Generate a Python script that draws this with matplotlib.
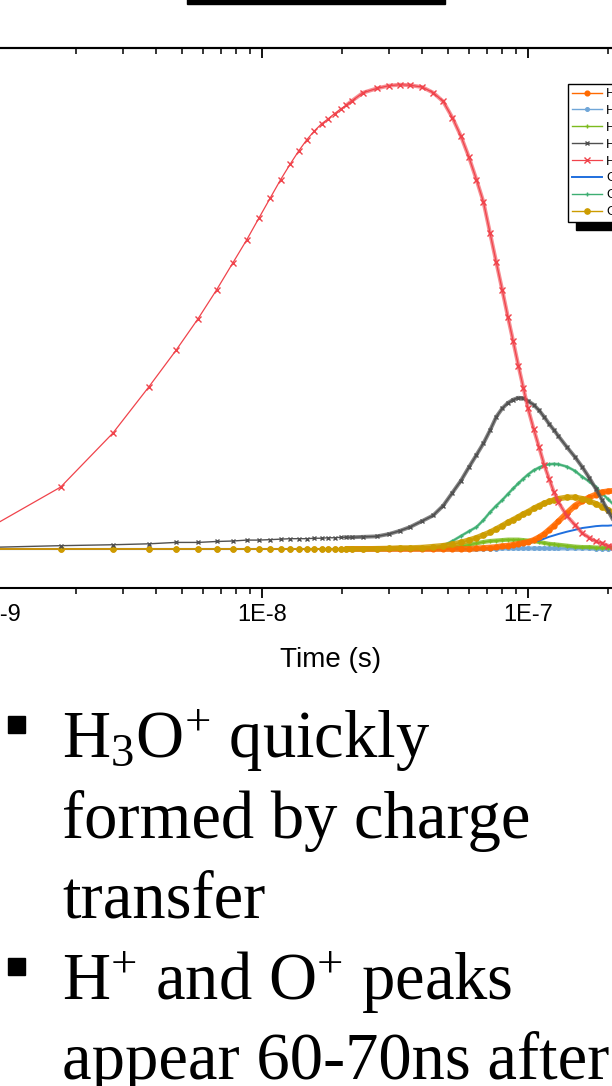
import numpy as np
import matplotlib.pyplot as plt
from matplotlib.ticker import LogLocator, FuncFormatter, NullFormatter
from matplotlib.patches import Rectangle
from matplotlib.transforms import IdentityTransform

plt.rcParams["font.family"] = ["Liberation Sans", "DejaVu Sans"]
plt.rcParams["mathtext.fontset"] = "custom"
plt.rcParams["mathtext.rm"] = "Liberation Serif"
plt.rcParams["mathtext.it"] = "Liberation Serif:italic"

# time grid (ns) and normalised ion populations
t_ns = [0.75, 1.75, 2.75, 3.75, 4.75, 5.75, 6.75, 7.75, 8.75, 9.75, 10.75,
        11.75, 12.75, 13.75, 14.75, 15.75, 16.75, 17.75, 18.75, 19.75, 20.75,
        21.75, 24, 27, 30, 33, 36, 40, 44, 48, 52, 56, 60, 64, 68, 72, 76,
        80, 84, 88, 92, 96, 100, 105, 110, 115, 120, 125, 130, 140, 150,
        160, 170, 180, 190, 200, 210, 220]

h_plus = [0.001] * 33 + [0.002, 0.003, 0.004, 0.005, 0.007, 0.008, 0.010,
          0.012, 0.014, 0.016, 0.020, 0.026, 0.033, 0.042, 0.051, 0.060,
          0.078, 0.094, 0.104, 0.112, 0.118, 0.123, 0.125, 0.126, 0.125]
h2_plus = [0.0] * 34 + [0.001, 0.001, 0.001, 0.002, 0.002, 0.002, 0.002,
           0.002, 0.002, 0.002, 0.002, 0.002, 0.002, 0.002, 0.002,
           0.002, 0.002, 0.002, 0.002, 0.001, 0.001, 0.001, 0.001, 0.001]
h3_plus = [0.001] * 29 + [0.002, 0.004, 0.007, 0.010, 0.013, 0.016, 0.018,
           0.019, 0.020, 0.021, 0.021, 0.021, 0.020, 0.019, 0.018, 0.016,
           0.014, 0.012, 0.011, 0.010, 0.008, 0.006, 0.005, 0.005, 0.004,
           0.004, 0.004, 0.004, 0.004]
h2o_plus = [0.003, 0.008, 0.010, 0.012, 0.015, 0.015, 0.017, 0.018, 0.020,
            0.020, 0.021, 0.022, 0.023, 0.023, 0.023, 0.024, 0.024, 0.025,
            0.025, 0.026, 0.026, 0.026, 0.027, 0.028, 0.033, 0.040, 0.048,
            0.061, 0.073, 0.094, 0.122, 0.148, 0.177, 0.203, 0.228, 0.256,
            0.285, 0.303, 0.315, 0.322, 0.326, 0.325, 0.319, 0.311, 0.299,
            0.285, 0.270, 0.257, 0.244, 0.220, 0.199, 0.177, 0.154, 0.130,
            0.106, 0.083, 0.061, 0.042]
h3o_plus = [0.014, 0.134, 0.250, 0.349, 0.428, 0.496, 0.558, 0.615, 0.665,
            0.713, 0.756, 0.795, 0.828, 0.857, 0.881, 0.900, 0.915, 0.926,
            0.937, 0.947, 0.955, 0.964, 0.982, 0.991, 0.997, 0.999, 0.998,
            0.994, 0.982, 0.963, 0.928, 0.888, 0.843, 0.795, 0.747, 0.680,
            0.617, 0.558, 0.500, 0.447, 0.395, 0.348, 0.303, 0.259, 0.220,
            0.182, 0.152, 0.124, 0.102, 0.072, 0.053, 0.035, 0.025, 0.017,
            0.013, 0.008, 0.005, 0.004]
o_plus = [0.001] * 34 + [0.002, 0.003, 0.004, 0.005, 0.006, 0.008, 0.009,
          0.011, 0.013, 0.016, 0.019, 0.023, 0.027, 0.030, 0.033, 0.038,
          0.042, 0.046, 0.048, 0.050, 0.051, 0.051, 0.052, 0.052]
oh_plus = [0.001] * 26 + [0.002, 0.002, 0.003, 0.008, 0.018, 0.029, 0.039,
           0.048, 0.063, 0.080, 0.094, 0.106, 0.119, 0.131, 0.142, 0.152,
           0.161, 0.170, 0.176, 0.181, 0.183, 0.184, 0.183, 0.178, 0.169,
           0.156, 0.146, 0.134, 0.120, 0.108, 0.096, 0.085]
o2_plus = [0.001] * 23 + [0.0015, 0.002, 0.003, 0.003, 0.004, 0.006, 0.008,
           0.011, 0.015, 0.020, 0.025, 0.031, 0.037, 0.044, 0.051, 0.058,
           0.064, 0.070, 0.076, 0.081, 0.088, 0.094, 0.099, 0.103, 0.106,
           0.109, 0.112, 0.112, 0.109, 0.104, 0.098, 0.092, 0.085, 0.078,
           0.071]

labels = ["H+", "H2+", "H3+", "H2O+", "H3O+", "O+", "OH+", "O2+"]

t = np.array(t_ns) * 1e-9
dense = t >= 20e-9   # beyond ~20 ns the 1 ns samples pile up into a solid band

W, H = 612, 1086
fig = plt.figure(figsize=(W / 100, H / 100), dpi=100)

# plot box in pixels; it runs past the left and right edges of the canvas
axLeft, axRight, axTop, axBottom = -60, 722, 48, 588
ax = fig.add_axes([axLeft / W, 1 - axBottom / H,
                   (axRight - axLeft) / W, (axBottom - axTop) / H])
ax.patch.set_facecolor("none")

# styles: color, marker, markersize, linewidth, band width, band alpha, zorder
styles = [
    ("#ff6a00", "o", 3.4, 1.0, 4.2, 0.85, 6),
    ("#70a6d8", "o", 2.6, 1.0, 3.0, 0.8, 2),
    ("#7cbb1e", "+", 3.0, 1.0, 3.0, 0.8, 3),
    ("#505050", "x", 3.5, 1.0, 2.8, 0.7, 7),
    ("#f0434b", "x", 3.8, 0.9, 2.8, 0.6, 8),
    ("#1f6fde", "None", 0, 1.4, 0, 0, 4),
    ("#3dae72", "+", 3.0, 1.0, 2.0, 0.7, 5),
    ("#cc9c00", "o", 3.8, 1.0, 4.0, 0.85, 6.5),
]
series = [h_plus, h2_plus, h3_plus, h2o_plus, h3o_plus, o_plus, oh_plus, o2_plus]

for lab, vals, (col, mk, ms, lw, bw, ba, z) in zip(labels, series, styles):
    vals = np.array(vals)
    ax.plot(t, vals, color=col, marker=mk, ms=ms, lw=lw, mew=1.0,
            zorder=z, label=lab)
    if bw > 0:
        ax.plot(t[dense], vals[dense], color=col, lw=bw, alpha=ba,
                solid_capstyle="round", solid_joinstyle="round", zorder=z)

ax.set_xscale("log")
ax.set_xlim(1e-8 * 10 ** ((axLeft - 262) / 266), 1e-8 * 10 ** ((axRight - 262) / 266))
ax.set_ylim(-0.083, 1.078)

fmt = FuncFormatter(lambda x, pos: "1E%d" % round(np.log10(x)))
ax.xaxis.set_major_locator(LogLocator(base=10))
ax.xaxis.set_minor_locator(LogLocator(base=10, subs=np.arange(2, 10)))
ax.xaxis.set_major_formatter(fmt)
ax.xaxis.set_minor_formatter(NullFormatter())
ax.tick_params(axis="x", which="major", direction="out", length=7.5, width=1.3,
               labelsize=17, pad=4)
ax.tick_params(axis="x", which="minor", direction="out", length=4, width=1.1)
ax.tick_params(axis="y", left=False, labelleft=False)
for sp in ax.spines.values():
    sp.set_linewidth(1.5)
ax.set_xlabel("Time (s)", fontsize=20, labelpad=15)

top = ax.secondary_xaxis("top")
top.xaxis.set_major_locator(LogLocator(base=10))
top.xaxis.set_minor_locator(LogLocator(base=10, subs=np.arange(2, 10)))
top.xaxis.set_major_formatter(NullFormatter())
top.xaxis.set_minor_formatter(NullFormatter())
top.tick_params(which="major", direction="in", length=7.5, width=1.3)
top.tick_params(which="minor", direction="in", length=4, width=1.1)
top.spines["top"].set_linewidth(1.5)

leg = ax.legend(loc="upper left", bbox_to_anchor=(568 / W, 1 - 84 / H),
                bbox_transform=fig.transFigure, fontsize=9.5, frameon=True,
                fancybox=False, edgecolor="black", framealpha=1,
                borderaxespad=0, borderpad=0.3, labelspacing=0.35,
                handlelength=2.3, handletextpad=0.3)
leg.get_frame().set_linewidth(1.0)
leg.set_zorder(20)

# legend drop shadow
fig.canvas.draw()
bb = leg.get_window_extent()
fig.add_artist(Rectangle((bb.x0 + 8, bb.y0 - 8), bb.width, bb.height,
                         transform=IdentityTransform(), color="black", zorder=-1))

# heading rule
fig.add_artist(Rectangle((187 / W, 1 - 4 / H), 258 / W, 5 / H,
                         transform=fig.transFigure, color="black"))

# bullet notes
lines = [
    (757, True, r"H$_\mathrm{3}$O$^\mathrm{+}$ quickly"),
    (838, False, "formed by charge"),
    (918, False, "transfer"),
    (999, True, r"H$^\mathrm{+}$ and O$^\mathrm{+}$ peaks"),
    (1079, False, "appear 60-70ns after"),
]
for base, bullet, txt in lines:
    fig.text(62 / W, 1 - base / H, txt, fontsize=48, va="baseline",
             family="Liberation Serif")
    if bullet:
        fig.add_artist(Rectangle((8 / W, 1 - (base - 24) / H), 17 / W, 17 / H,
                                 transform=fig.transFigure, color="black"))

fig.savefig("out.png", dpi=100)
